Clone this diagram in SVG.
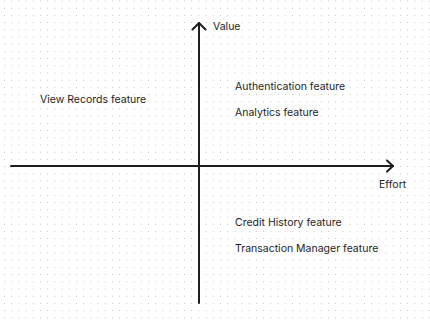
<svg xmlns="http://www.w3.org/2000/svg" width="430" height="320" viewBox="0 0 430 320">
  <defs>
    <pattern id="dots" x="4" y="0.5" width="7.2" height="7.2" patternUnits="userSpaceOnUse">
      <rect x="0" y="0" width="1" height="1" fill="#c4c4c4"/>
    </pattern>
    <style>
      .axis { stroke: #1e1e1e; stroke-width: 2; fill: none; stroke-linecap: round; stroke-linejoin: round; }
      .label { font-family: Inter, "Liberation Sans", sans-serif; font-size: 10.5px; fill: #1e1e1e; }
    </style>
  </defs>
  <rect width="430" height="320" fill="#ffffff"/>
  <rect width="430" height="320" fill="url(#dots)"/>

  <g id="connectors">
    <!-- value axis -->
    <path class="axis" d="M199 303 L199 23"/>
    <path class="axis" d="M192.5 29.5 L199 23 L205.5 29.5"/>
    <!-- effort axis -->
    <path class="axis" d="M11 166 L393 166"/>
    <path class="axis" d="M387 160.5 L393 166 L387 171.5"/>
  </g>

  <g id="axis-labels">
    <text class="label" x="213" y="30">Value</text>
    <text class="label" x="379" y="188">Effort</text>
  </g>

  <g id="view-records">
    <text class="label" x="40" y="103">View Records feature</text>
  </g>
  <g id="authentication">
    <text class="label" x="235" y="90">Authentication feature</text>
  </g>
  <g id="analytics">
    <text class="label" x="235" y="116">Analytics feature</text>
  </g>
  <g id="credit-history">
    <text class="label" x="235" y="225.5">Credit History feature</text>
  </g>
  <g id="transaction-manager">
    <text class="label" x="235" y="251.5">Transaction Manager feature</text>
  </g>
</svg>
